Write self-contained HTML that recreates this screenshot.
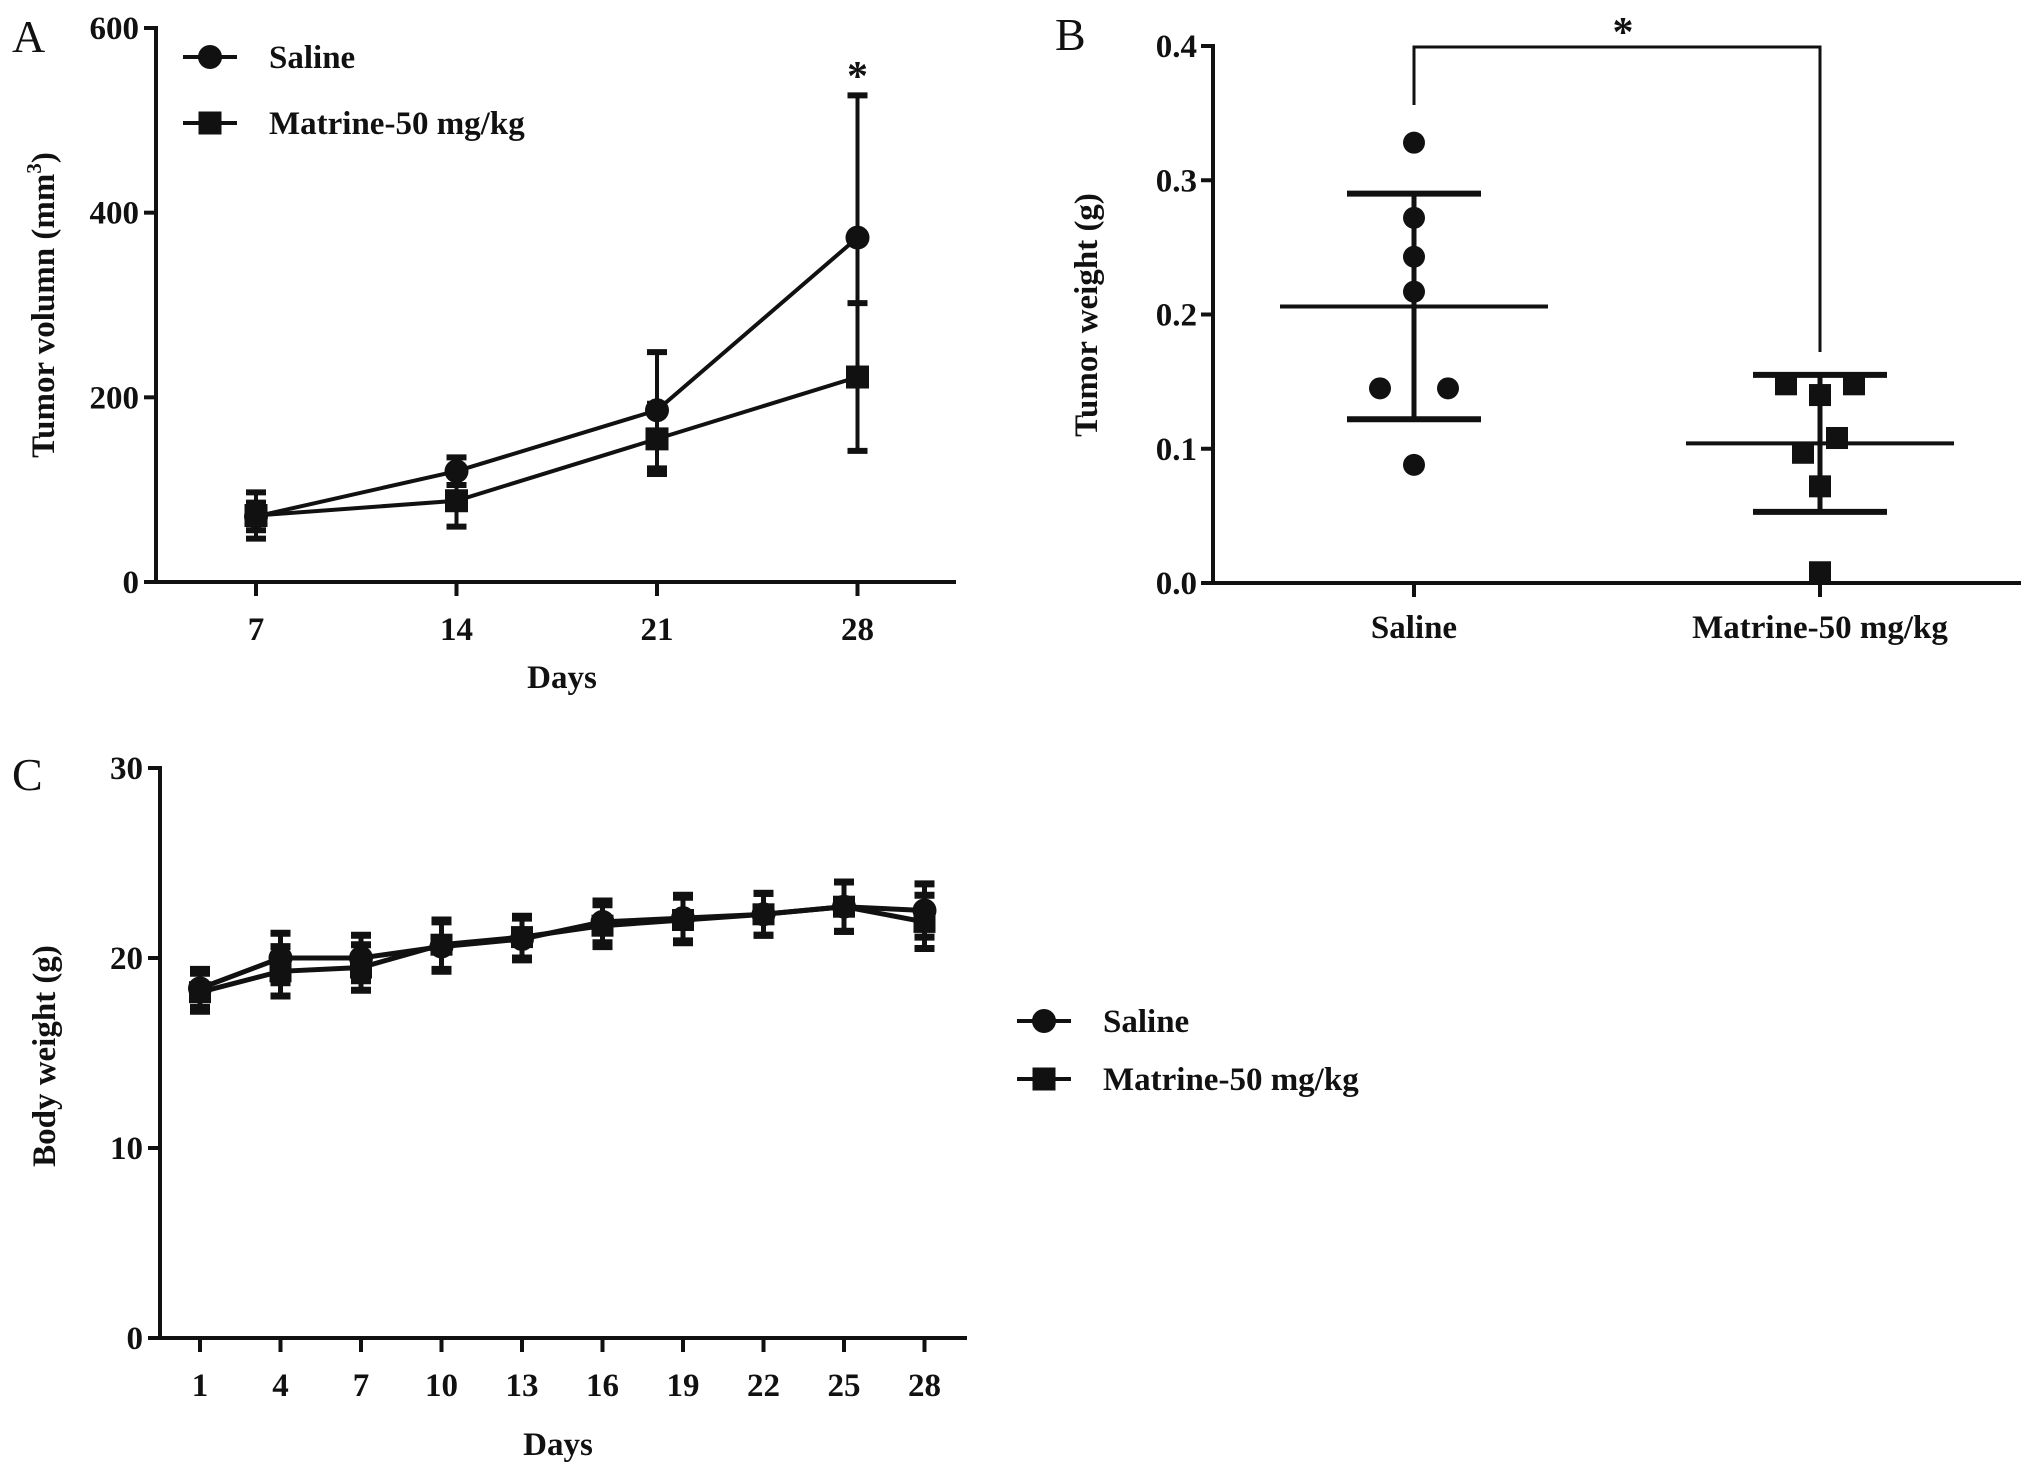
<!DOCTYPE html>
<html><head><meta charset="utf-8"><style>
html,body{margin:0;padding:0;background:#fff}
svg{display:block}
text{font-family:"Liberation Serif",serif;font-weight:bold;fill:#111}
text.plabel{font-weight:normal}
</style></head><body>
<svg id="fig" width="2031" height="1472" viewBox="0 0 2031 1472" xmlns="http://www.w3.org/2000/svg"></svg>
<script>
// Panel A data
const aDays = [7, 14, 21, 28];
const aSaline = [71, 120, 186, 373];
const aSalineErr = [15, 15, 63, 154];
const aMatrine = [72, 88, 155, 222];
const aMatrineErr = [25, 28, 38, 80];
const aYTicks = [0, 200, 400, 600];
// Panel B data
const bGroups = ['Saline', 'Matrine-50 mg/kg'];
const bSalinePts = [0.328, 0.272, 0.243, 0.217, 0.145, 0.145, 0.088];
const bSalineOff = [0, 0, 0, 0, -1, 1, 0];
const bMatrinePts = [0.148, 0.148, 0.140, 0.108, 0.097, 0.072, 0.008];
const bMatrineOff = [-1, 1, 0, 0.5, -0.5, 0, 0];
const bMeans = [0.206, 0.104];
const bSD = [0.084, 0.051];
const bYTicks = [0.0, 0.1, 0.2, 0.3, 0.4];
// Panel C data
const cDays = [1, 4, 7, 10, 13, 16, 19, 22, 25, 28];
const cSaline = [18.4, 20.0, 20.0, 20.6, 21.0, 21.9, 22.1, 22.3, 22.7, 22.5];
const cMatrine = [18.2, 19.3, 19.5, 20.7, 21.1, 21.7, 22.0, 22.3, 22.7, 21.9];
const cErr = [1.0, 1.3, 1.2, 1.3, 1.1, 1.1, 1.2, 1.1, 1.3, 1.4];
const cYTicks = [0, 10, 20, 30];

const NS = 'http://www.w3.org/2000/svg';
const svg = document.getElementById('fig');
const FS = 33;
function el(tag, attrs, parent) {
  const e = document.createElementNS(NS, tag);
  for (const k in attrs) e.setAttribute(k, attrs[k]);
  (parent || svg).appendChild(e);
  return e;
}
function line(x1, y1, x2, y2, w, p) { return el('line', {x1, y1, x2, y2, stroke: '#111', 'stroke-width': w || 4}, p); }
function txt(s, x, y, size, anchor, p, extra) {
  const t = el('text', Object.assign({x, y, 'font-size': size, 'text-anchor': anchor || 'middle'}, extra || {}), p);
  t.textContent = s; return t;
}
function circ(x, y, r, p) { return el('circle', {cx: x, cy: y, r, fill: '#111'}, p); }
function sq(x, y, s, p) { return el('rect', {x: x - s / 2, y: y - s / 2, width: s, height: s, fill: '#111'}, p); }

// ================= Panel A =================
const gA = el('g', {});


const ax = d => 256 + (d - 7) / 7 * 200.5;
const ay = v => 582 - v / 600 * (582 - 28);
line(156, 26, 156, 584, 4, gA);
line(154, 582, 956, 582, 4, gA);
aYTicks.forEach(v => {
  line(144, ay(v), 156, ay(v), 4, gA);
  const t = txt(String(v), 139, ay(v) + 11, FS, 'end', gA);
  
  
});
aDays.forEach(d => {
  line(ax(d), 582, ax(d), 596, 4, gA);
  const t = txt(String(d), ax(d), 640, FS, 'middle', gA);
  
  
});
function seriesA(vals, errs, marker, name) {
  const g = el('g', {}, gA);
  
  
  el('polyline', {points: aDays.map((d, i) => ax(d) + ',' + ay(vals[i])).join(' '), fill: 'none', stroke: '#111', 'stroke-width': 4}, g);
  aDays.forEach((d, i) => {
    const x = ax(d);
    line(x, ay(vals[i] - errs[i]), x, ay(vals[i] + errs[i]), 4, g);
    line(x - 10, ay(vals[i] + errs[i]), x + 10, ay(vals[i] + errs[i]), 6, g);
    line(x - 10, ay(vals[i] - errs[i]), x + 10, ay(vals[i] - errs[i]), 6, g);
    if (marker === 'c') circ(x, ay(vals[i]), 12, g); else sq(x, ay(vals[i]), 23, g);
  });
}
seriesA(aMatrine, aMatrineErr, 's', 'a-matrine-series');
seriesA(aSaline, aSalineErr, 'c', 'a-saline-series');
const star1 = txt('*', ax(28), 90, 42, 'middle', gA);


const lgA = el('g', {}, gA);


line(183, 57, 237, 57, 4, lgA); circ(210, 57, 12, lgA);
txt('Saline', 269, 68, FS, 'start', lgA);
line(183, 123, 237, 123, 4, lgA); sq(210, 123, 23, lgA);
txt('Matrine-50 mg/kg', 269, 134, FS, 'start', lgA);
const tA = txt('A', 12, 52, 46, 'start', gA, {'class': 'plabel'});


const xtA = txt('Days', 562, 688, FS, 'middle', gA);


const ytA = el('text', {x: 0, y: 0, 'font-size': FS, 'text-anchor': 'middle', transform: 'translate(54,305) rotate(-90)'}, gA);
ytA.innerHTML = 'Tumor volumn (mm<tspan dy="-13" font-size="21">3</tspan><tspan dy="13">)</tspan>';



// ================= Panel B =================
const gB = el('g', {});


const bx = i => [1414, 1820][i];
const by = v => 583 - v / 0.4 * (583 - 46);
line(1213, 44, 1213, 585, 4, gB);
line(1211, 583, 2021, 583, 4, gB);
bYTicks.forEach(v => {
  line(1201, by(v), 1213, by(v), 4, gB);
  const t = txt(v.toFixed(1), 1197, by(v) + 11, FS, 'end', gB);
  
  
});
bGroups.forEach((g, i) => {
  line(bx(i), 583, bx(i), 597, 4, gB);
  const t = txt(g, bx(i), 638, FS, 'middle', gB);
  
  
});
function groupB(i, pts, offs, marker, name) {
  const g = el('g', {}, gB);
  
  
  const x = bx(i);
  line(x, by(bMeans[i] - bSD[i]), x, by(bMeans[i] + bSD[i]), 5, g);
  line(x - 134, by(bMeans[i]), x + 134, by(bMeans[i]), 4, g);
  line(x - 67, by(bMeans[i] + bSD[i]), x + 67, by(bMeans[i] + bSD[i]), 6, g);
  line(x - 67, by(bMeans[i] - bSD[i]), x + 67, by(bMeans[i] - bSD[i]), 6, g);
  pts.forEach((v, j) => {
    const px = x + offs[j] * 34;
    if (marker === 'c') circ(px, by(v), 11, g); else sq(px, by(v), 22, g);
  });
}
groupB(0, bSalinePts, bSalineOff, 'c', 'b-saline-group');
groupB(1, bMatrinePts, bMatrineOff, 's', 'b-matrine-group');
const br = el('polyline', {points: `${bx(0)},105 ${bx(0)},47 ${bx(1)},47 ${bx(1)},352`, fill: 'none', stroke: '#111', 'stroke-width': 3}, gB);


const star2 = txt('*', 1623, 46, 42, 'middle', gB);


const tB = txt('B', 1055, 50, 46, 'start', gB, {'class': 'plabel'});


const ytB = txt('Tumor weight (g)', 0, 0, FS, 'middle', gB, {transform: 'translate(1097,315) rotate(-90)'});



// ================= Panel C =================
const gC = el('g', {});


const cx = d => 200 + (d - 1) / 3 * 80.5;
const cy = v => 1338 - v / 30 * (1338 - 768);
line(160, 766, 160, 1340, 4, gC);
line(158, 1338, 967, 1338, 4, gC);
cYTicks.forEach(v => {
  line(148, cy(v), 160, cy(v), 4, gC);
  const t = txt(String(v), 143, cy(v) + 11, FS, 'end', gC);
  
  
});
cDays.forEach(d => {
  line(cx(d), 1338, cx(d), 1352, 4, gC);
  const t = txt(String(d), cx(d), 1396, FS, 'middle', gC);
  
  
});
function seriesC(vals, marker, name) {
  const g = el('g', {}, gC);
  
  
  el('polyline', {points: cDays.map((d, i) => cx(d) + ',' + cy(vals[i])).join(' '), fill: 'none', stroke: '#111', 'stroke-width': 5}, g);
  cDays.forEach((d, i) => {
    const x = cx(d);
    line(x, cy(vals[i] - cErr[i]), x, cy(vals[i] + cErr[i]), 5, g);
    line(x - 10, cy(vals[i] + cErr[i]), x + 10, cy(vals[i] + cErr[i]), 7, g);
    line(x - 10, cy(vals[i] - cErr[i]), x + 10, cy(vals[i] - cErr[i]), 7, g);
    if (marker === 'c') circ(x, cy(vals[i]), 12, g); else sq(x, cy(vals[i]), 22, g);
  });
}
seriesC(cMatrine, 's', 'c-matrine-series');
seriesC(cSaline, 'c', 'c-saline-series');
const lgC = el('g', {}, gC);


line(1017, 1021, 1071, 1021, 4, lgC); circ(1044, 1021, 12, lgC);
txt('Saline', 1103, 1032, FS, 'start', lgC);
line(1017, 1079, 1071, 1079, 4, lgC); sq(1044, 1079, 23, lgC);
txt('Matrine-50 mg/kg', 1103, 1090, FS, 'start', lgC);
const tC = txt('C', 12, 790, 46, 'start', gC, {'class': 'plabel'});


const xtC = txt('Days', 558, 1455, FS, 'middle', gC);


const ytC = txt('Body weight (g)', 0, 0, FS, 'middle', gC, {transform: 'translate(55,1056) rotate(-90)'});


</script>
</body></html>
